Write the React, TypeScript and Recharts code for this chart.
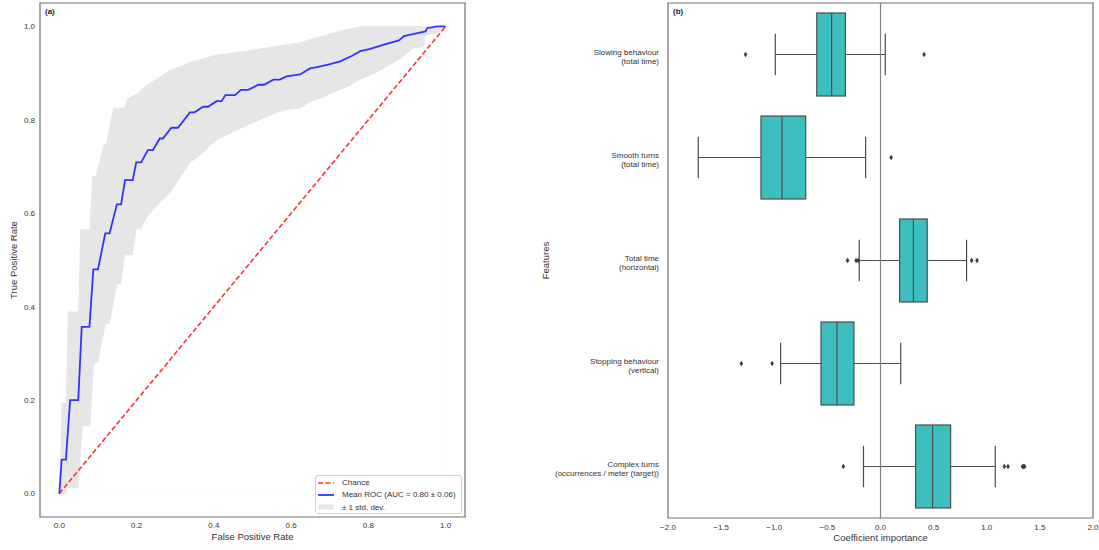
import React from 'react';
import {
  ComposedChart, Line, Area, XAxis, YAxis, ReferenceArea, ReferenceLine,
  Legend, Bar, Scatter, Label,
} from 'recharts';

// ---------- (a) ROC data ----------
const rocFpr = [0, 0.006, 0.017, 0.028, 0.049, 0.058, 0.078, 0.088, 0.1, 0.119, 0.13, 0.149, 0.16, 0.17, 0.19, 0.199, 0.212, 0.229, 0.242, 0.26, 0.268, 0.29, 0.307, 0.338, 0.35, 0.372, 0.385, 0.407, 0.42, 0.43, 0.455, 0.47, 0.489, 0.515, 0.53, 0.554, 0.571, 0.588, 0.623, 0.649, 0.667, 0.701, 0.727, 0.758, 0.779, 0.805, 0.84, 0.879, 0.892, 0.918, 0.948, 0.952, 0.978, 1.0];
const rocTpr = [0, 0.073, 0.073, 0.2, 0.2, 0.357, 0.357, 0.48, 0.48, 0.557, 0.557, 0.619, 0.619, 0.671, 0.671, 0.709, 0.709, 0.735, 0.735, 0.76, 0.76, 0.783, 0.783, 0.816, 0.816, 0.828, 0.828, 0.84, 0.84, 0.853, 0.853, 0.864, 0.864, 0.875, 0.875, 0.886, 0.886, 0.893, 0.897, 0.91, 0.913, 0.919, 0.925, 0.937, 0.947, 0.952, 0.961, 0.97, 0.979, 0.984, 0.989, 0.996, 1.0, 1.0];

const upperFpr = [0, 0.006, 0.017, 0.022, 0.049, 0.054, 0.078, 0.085, 0.095, 0.115, 0.121, 0.14, 0.169, 0.175, 0.199, 0.225, 0.286, 0.338, 0.4, 0.5, 0.623, 0.727, 0.78, 1.0];
const upperTpr = [0, 0.194, 0.194, 0.39, 0.39, 0.566, 0.566, 0.68, 0.68, 0.749, 0.749, 0.826, 0.826, 0.845, 0.855, 0.874, 0.906, 0.923, 0.938, 0.95, 0.966, 0.991, 1.0, 1.0];

const lowerFpr = [0, 0.017, 0.02, 0.05, 0.06, 0.08, 0.09, 0.1, 0.12, 0.13, 0.15, 0.16, 0.17, 0.19, 0.2, 0.21, 0.23, 0.26, 0.286, 0.3, 0.338, 0.364, 0.407, 0.45, 0.537, 0.58, 0.623, 0.649, 0.675, 0.71, 0.745, 0.775, 0.805, 0.831, 0.857, 0.888, 0.914, 0.944, 0.948, 0.978, 1.0];
const lowerTpr = [0, 0, 0.012, 0.012, 0.144, 0.144, 0.279, 0.279, 0.363, 0.363, 0.449, 0.449, 0.51, 0.51, 0.566, 0.566, 0.596, 0.622, 0.643, 0.66, 0.707, 0.724, 0.756, 0.774, 0.806, 0.82, 0.824, 0.838, 0.845, 0.858, 0.87, 0.884, 0.895, 0.906, 0.918, 0.933, 0.952, 0.956, 0.981, 0.984, 1.0];

const chanceFpr = [0, 1];
const chanceTpr = [0, 1];
const rocTicks = [0, 0.2, 0.4, 0.6, 0.8, 1.0];

// ---------- (b) coefficient boxplots ----------
const featureNames = [
  'Slowing behaviour\n(total time)',
  'Smooth turns\n(total time)',
  'Total time\n(horizontal)',
  'Stopping behaviour\n(vertical)',
  'Complex turns\n(occurrences / meter (target))',
];
const whiskerLow = [-0.99, -1.715, -0.2, -0.94, -0.16];
const quart1 = [-0.6, -1.125, 0.18, -0.56, 0.33];
const medians = [-0.46, -0.927, 0.31, -0.41, 0.49];
const quart3 = [-0.33, -0.704, 0.44, -0.25, 0.66];
const whiskerHigh = [0.045, -0.14, 0.81, 0.19, 1.08];
const outlierFeature = [0, 0, 1, 2, 2, 2, 2, 2, 3, 3, 4, 4, 4, 4, 4, 4];
const outlierValue = [-1.27, 0.41, 0.1, -0.31, -0.23, -0.21, 0.858, 0.908, -1.31, -1.02, -0.35, 1.165, 1.2, 1.337, 1.347, 1.357];
const coefTicks = [-2, -1.5, -1, -0.5, 0, 0.5, 1, 1.5, 2];

const rocData = rocFpr.map((f, i) => ({ fpr: f, tpr: rocTpr[i] }));
const upperData = upperFpr.map((f, i) => ({ fpr: f, upper: upperTpr[i] }));
const lowerData = lowerFpr.map((f, i) => ({ fpr: f, lower: lowerTpr[i] }));
const chanceData = chanceFpr.map((f, i) => ({ fpr: f, tpr: chanceTpr[i] }));

const boxData = featureNames.map((name, i) => ({
  feature: name,
  range: [whiskerLow[i], whiskerHigh[i]],
  lo: whiskerLow[i],
  q1: quart1[i],
  med: medians[i],
  q3: quart3[i],
  hi: whiskerHigh[i],
}));
const outlierData = outlierValue.map((v, i) => ({ feature: featureNames[outlierFeature[i]], value: v }));

const FONT = '"Liberation Sans", Arial, Helvetica, sans-serif';
const TEXT = '#333333';
const FRAME = '#707070';
const BOX_FILL = '#3ebfbf';
const BOX_EDGE = '#4d4d4d';

const fmtNum = (v: number) => (v < 0 ? '\u2212' : '') + Math.abs(v).toFixed(1);

const LegendBox = () => (
  <div style={{
    width: 147, height: 39, boxSizing: 'border-box', border: '1px solid #d3d3d3', borderRadius: 3,
    background: 'rgba(255,255,255,0.85)', padding: '0.5px 0 0 2px', fontSize: 8, color: TEXT, fontFamily: FONT,
  }}>
    <div style={{ display: 'flex', alignItems: 'center', height: 12.3 }}>
      <svg width={16} height={6}><line x1={0} x2={16} y1={3} y2={3} stroke="#ff3333" strokeWidth={1.6} strokeDasharray="5 2.5" /></svg>
      <span style={{ marginLeft: 8 }}>Chance</span>
    </div>
    <div style={{ display: 'flex', alignItems: 'center', height: 12.3 }}>
      <svg width={16} height={6}><line x1={0} x2={16} y1={3} y2={3} stroke="#3333ff" strokeWidth={1.8} /></svg>
      <span style={{ marginLeft: 8 }}>Mean ROC (AUC = 0.80 ± 0.06)</span>
    </div>
    <div style={{ display: 'flex', alignItems: 'center', height: 12.3 }}>
      <svg width={16} height={6}><rect x={0.5} y={0.5} width={15} height={5} fill="#e6e6e6" /></svg>
      <span style={{ marginLeft: 8 }}>± 1 std. dev.</span>
    </div>
  </div>
);

const BoxShape = (props: any) => {
  const { x, y, width, height, payload } = props;
  if (!payload) return null;
  const { lo, q1, med, q3, hi } = payload;
  const px = (v: number) => x + ((v - lo) / (hi - lo)) * width;
  const cy = y + height / 2;
  const cap = height / 4;
  return (
    <g>
      <line x1={px(lo)} x2={px(q1)} y1={cy} y2={cy} stroke={BOX_EDGE} strokeWidth={1.2} />
      <line x1={px(q3)} x2={px(hi)} y1={cy} y2={cy} stroke={BOX_EDGE} strokeWidth={1.2} />
      <line x1={px(lo)} x2={px(lo)} y1={cy - cap} y2={cy + cap} stroke={BOX_EDGE} strokeWidth={1.2} />
      <line x1={px(hi)} x2={px(hi)} y1={cy - cap} y2={cy + cap} stroke={BOX_EDGE} strokeWidth={1.2} />
      <rect x={px(q1)} y={y} width={px(q3) - px(q1)} height={height} fill={BOX_FILL} stroke={BOX_EDGE} strokeWidth={1.2} />
      <line x1={px(med)} x2={px(med)} y1={y} y2={y + height} stroke={BOX_EDGE} strokeWidth={1.2} />
    </g>
  );
};

const Diamond = (props: any) => {
  const { cx, cy } = props;
  if (cx == null || cy == null) return null;
  return <path d={`M${cx},${cy - 2.8} L${cx + 1.8},${cy} L${cx},${cy + 2.8} L${cx - 1.8},${cy} Z`} fill="#3d3d3d" />;
};

const FeatureTick = (props: any) => {
  const { x, y, payload } = props;
  const lines = String(payload.value).split('\n');
  return (
    <text x={x} y={y} textAnchor="end" fontSize={8} fill={TEXT} fontFamily={FONT}>
      {lines.map((l, i) => (
        <tspan key={i} x={x} dy={i === 0 ? 0 : 9}>{l}</tspan>
      ))}
    </text>
  );
};

export default function App() {
  return (
    <div style={{ position: 'absolute', left: 0, top: 0, width: 1099, height: 550, background: '#fff', fontFamily: FONT, overflow: 'hidden' }}>
      <div style={{ position: 'absolute', left: -12, top: 0 }}>
        <ComposedChart width={492} height={550} margin={{ top: 3, right: 15, bottom: 0, left: 0 }}>
          <XAxis
            type="number" dataKey="fpr" domain={[-0.05, 1.05]} ticks={rocTicks} allowDataOverflow
            tickFormatter={(v: number) => v.toFixed(1)} tickLine={false} axisLine={false}
            tickSize={3} tickMargin={2} height={33} tick={{ fontSize: 8, fill: TEXT }}
          >
            <Label value="False Positive Rate" position="insideBottom" offset={10} fontSize={9.5} fill={TEXT} />
          </XAxis>
          <YAxis
            type="number" domain={[-0.05, 1.05]} ticks={rocTicks} allowDataOverflow
            tickFormatter={(v: number) => v.toFixed(1)} tickLine={false} axisLine={false}
            tickSize={3} tickMargin={2} width={52} tick={{ fontSize: 8, fill: TEXT }}
          >
            <Label value="True Positive Rate" position="center" angle={-90} fontSize={9.5} fill={TEXT} />
          </YAxis>
          <Area data={upperData} dataKey="upper" type="linear" baseValue={0} fill="#e6e6e6" fillOpacity={1} stroke="none" isAnimationActive={false} dot={false} activeDot={false} />
          <Area data={lowerData} dataKey="lower" type="linear" baseValue={0} fill="#ffffff" fillOpacity={1} stroke="none" isAnimationActive={false} dot={false} activeDot={false} />
          <Line data={chanceData} dataKey="tpr" type="linear" stroke="#ff3333" strokeWidth={1.6} strokeDasharray="5 2.5" dot={false} activeDot={false} isAnimationActive={false} />
          <Line data={rocData} dataKey="tpr" type="linear" stroke="#3333ff" strokeWidth={1.8} dot={false} activeDot={false} isAnimationActive={false} />
          <ReferenceArea x1={-0.05} x2={1.05} fill="none" stroke={FRAME} strokeWidth={1.2} ifOverflow="visible">
            <Label value="(a)" position="insideTopLeft" offset={5} fontSize={8} fontWeight="bold" fill="#222" />
          </ReferenceArea>
          <Legend
            layout="vertical" align="center" verticalAlign="middle"
            wrapperStyle={{ left: 327, top: 475, width: 147, height: 39 }}
            content={() => <LegendBox />}
          />
        </ComposedChart>
      </div>

      <div style={{ position: 'absolute', left: 424, top: 0 }}>
        <ComposedChart width={675} height={550} layout="vertical" data={boxData} margin={{ top: 3, right: 6, bottom: 0, left: 0 }}>
          <XAxis
            type="number" dataKey="value" domain={[-2, 2]} ticks={coefTicks} allowDataOverflow
            tickFormatter={fmtNum} tickLine={false} axisLine={false}
            tickSize={3} tickMargin={3} height={32} tick={{ fontSize: 8, fill: TEXT }}
          >
            <Label value="Coefficient importance" position="insideBottom" offset={9} fontSize={9.5} fill={TEXT} />
          </XAxis>
          <YAxis
            type="category" dataKey="feature" allowDuplicatedCategory={false}
            tickLine={false} axisLine={false} tickSize={3} tickMargin={6} width={244}
            tick={<FeatureTick />} interval={0}
          >
            <Label value="Features" position="center" angle={-90} fontSize={9.5} fill={TEXT} />
          </YAxis>
          <ReferenceLine x={0} stroke="#808080" strokeWidth={1.2} />
          <Bar dataKey="range" barSize={83} shape={<BoxShape />} isAnimationActive={false} />
          <Scatter data={outlierData} dataKey="value" shape={<Diamond />} isAnimationActive={false} />
          <ReferenceArea x1={-2} x2={2} fill="none" stroke={FRAME} strokeWidth={1.2} ifOverflow="visible">
            <Label value="(b)" position="insideTopLeft" offset={5} fontSize={8} fontWeight="bold" fill="#222" />
          </ReferenceArea>
        </ComposedChart>
      </div>
    </div>
  );
}
